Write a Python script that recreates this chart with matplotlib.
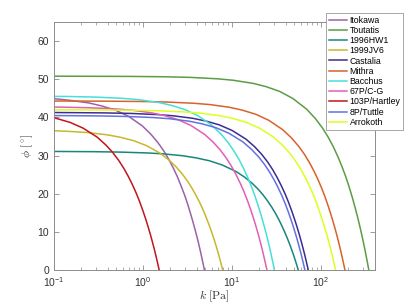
import matplotlib
matplotlib.use("Agg")
import matplotlib.pyplot as plt

plt.rcParams["font.family"] = ["Liberation Sans", "DejaVu Sans"]
plt.rcParams["mathtext.fontset"] = "cm"

names = ["Itokawa", "Toutatis", "1996HW1", "1999JV6", "Castalia", "Mithra",
         "Bacchus", "67P/C-G", "103P/Hartley", "8P/Tuttle", "Arrokoth"]
colors = ["#9b62a7", "#5b9c45", "#17877b", "#c9b72d", "#3c2d91", "#d9622b",
          "#45e0d8", "#e35fb5", "#c4141c", "#6272e0", "#dcff1f"]

# cohesion k [Pa] and friction angle phi [deg]
k_itokawa = [0.1, 0.147, 0.245, 0.343, 0.49, 0.686, 0.98, 1.225, 1.47, 1.715, 1.96,
             2.205, 2.45, 2.695, 2.94, 3.185, 3.43, 3.675, 3.92, 4.165, 4.41, 4.655,
             4.7775, 4.9]
phi_itokawa = [44.9, 44.5, 43.8, 43.0, 41.9, 40.3, 37.8, 35.6, 33.4, 31.2, 28.9, 26.6,
               24.3, 21.9, 19.6, 17.2, 14.7, 12.3, 9.9, 7.5, 5.0, 2.5, 1.25, 0.0]

k_toutatis = [0.1, 0.69, 1.725, 3.45, 6.9, 10.35, 17.25, 24.15, 34.5, 48.3, 69, 86.25,
              103.5, 120.75, 138, 155.25, 172.5, 189.75, 207, 224.25, 241.5, 258.75,
              276, 293.25, 310.5, 327.75, 336.4, 345]
phi_toutatis = [50.8, 50.74, 50.65, 50.48, 50.11, 49.73, 48.92, 48.06, 46.79, 44.96,
                42.16, 39.73, 37.29, 34.80, 32.26, 29.67, 27.08, 24.49, 21.84, 19.15,
                16.46, 13.77, 11.07, 8.33, 5.59, 2.79, 1.40, 0.0]

k_hw1 = [0.1, 0.278, 0.556, 1.112, 1.668, 2.78, 3.892, 5.56, 7.784, 11.12, 13.9,
         16.68, 19.46, 22.24, 25.02, 27.8, 30.58, 33.36, 36.14, 38.92, 41.7, 44.48,
         47.26, 50.04, 52.82, 54.21, 55.6]
phi_hw1 = [31.07, 31.01, 30.90, 30.68, 30.45, 29.95, 29.42, 28.64, 27.52, 25.81, 24.32,
           22.83, 21.30, 19.75, 18.16, 16.58, 14.99, 13.37, 11.72, 10.08, 8.43, 6.78,
           5.10, 3.42, 1.71, 0.86, 0.0]

k_jv6 = [0.1, 0.157, 0.236, 0.394, 0.551, 0.787, 1.102, 1.574, 1.968, 2.361, 2.755,
         3.148, 3.542, 3.935, 4.329, 4.722, 5.116, 5.509, 5.903, 6.296, 6.69, 7.083,
         7.477, 7.674, 7.87]
phi_jv6 = [36.5, 36.30, 36.03, 35.44, 34.81, 33.89, 32.57, 30.54, 28.78, 27.01, 25.21,
           23.37, 21.49, 19.61, 17.74, 15.82, 13.87, 11.92, 9.97, 8.02, 6.04, 4.05,
           2.02, 1.01, 0.0]

k_castalia = [0.1, 0.144, 0.36, 0.72, 1.44, 2.16, 3.6, 5.04, 7.2, 10.08, 14.4, 18,
              21.6, 25.2, 28.8, 32.4, 36, 39.6, 43.2, 46.8, 50.4, 54, 57.6, 61.2,
              64.8, 68.4, 70.2, 72]
phi_castalia = [41.27, 41.25, 41.18, 41.04, 40.74, 40.43, 39.77, 39.07, 38.04, 36.55,
                34.28, 32.30, 30.31, 28.29, 26.23, 24.12, 22.01, 19.91, 17.76, 15.57,
                13.38, 11.19, 9.00, 6.77, 4.54, 2.27, 1.14, 0.0]

k_mithra = [0.1, 0.372, 0.93, 1.86, 3.72, 5.58, 9.3, 13.02, 18.6, 26.04, 37.2, 46.5,
            55.8, 65.1, 74.4, 83.7, 93, 102.3, 111.6, 120.9, 130.2, 139.5, 148.8,
            158.1, 167.4, 176.7, 181.35, 186]
phi_mithra = [44.29, 44.25, 44.17, 44.02, 43.70, 43.37, 42.66, 41.91, 40.80, 39.21,
              36.77, 34.64, 32.52, 30.35, 28.13, 25.87, 23.61, 21.35, 19.05, 16.70,
              14.35, 12.01, 9.66, 7.27, 4.87, 2.44, 1.22, 0.0]

k_bacchus = [0.1, 0.15, 0.3, 0.6, 0.9, 1.5, 2.1, 3, 4.2, 6, 7.5, 9, 10.5, 12, 13.5,
             15, 16.5, 18, 19.5, 21, 22.5, 24, 25.5, 27, 28.5, 29.25, 30]
phi_bacchus = [45.51, 45.47, 45.31, 44.98, 44.64, 43.91, 43.14, 42.00, 40.36, 37.85,
               35.66, 33.47, 31.24, 28.96, 26.63, 24.30, 21.98, 19.61, 17.19, 14.77,
               12.36, 9.94, 7.48, 5.02, 2.51, 1.25, 0.0]

k_67p = [0.1, 0.1235, 0.247, 0.494, 0.741, 1.235, 1.729, 2.47, 3.458, 4.94, 6.175,
         7.41, 8.645, 9.88, 11.115, 12.35, 13.585, 14.82, 16.055, 17.29, 18.525,
         19.76, 20.995, 22.23, 23.465, 24.08, 24.7]
phi_67p = [42.70, 42.68, 42.53, 42.22, 41.90, 41.22, 40.49, 39.42, 37.88, 35.52, 33.47,
           31.42, 29.32, 27.18, 25.00, 22.81, 20.63, 18.40, 16.14, 13.87, 11.60, 9.33,
           7.02, 4.71, 2.35, 1.18, 0.0]

k_103p = [0.1, 0.1064, 0.152, 0.2128, 0.304, 0.38, 0.456, 0.532, 0.608, 0.684, 0.76,
          0.836, 0.912, 0.988, 1.064, 1.14, 1.216, 1.292, 1.368, 1.444, 1.482, 1.52]
phi_103p = [39.9, 39.73, 38.68, 37.17, 34.86, 32.84, 30.83, 28.77, 26.67, 24.53, 22.39,
            20.24, 18.06, 15.83, 13.61, 11.38, 9.16, 6.89, 4.62, 2.31, 1.16, 0.0]

k_8p = [0.1, 0.132, 0.33, 0.66, 1.32, 1.98, 3.3, 4.62, 6.6, 9.24, 13.2, 16.5, 19.8,
        23.1, 26.4, 29.7, 33, 36.3, 39.6, 42.9, 46.2, 49.5, 52.8, 56.1, 59.4, 62.7,
        64.35, 66]
phi_8p = [40.47, 40.46, 40.38, 40.24, 39.95, 39.65, 39.00, 38.31, 37.30, 35.84, 33.62,
          31.67, 29.73, 27.74, 25.72, 23.65, 21.59, 19.52, 17.42, 15.27, 13.12, 10.98,
          8.83, 6.64, 4.46, 2.23, 1.11, 0.0]

k_arrokoth = [0.1, 0.292, 0.73, 1.46, 2.92, 4.38, 7.3, 10.22, 14.6, 20.44, 29.2, 36.5,
              43.8, 51.1, 58.4, 65.7, 73, 80.3, 87.6, 94.9, 102.2, 109.5, 116.8, 124.1,
              131.4, 138.7, 142.35, 146]
phi_arrokoth = [41.99, 41.95, 41.88, 41.74, 41.43, 41.12, 40.45, 39.73, 38.68, 37.17,
                34.86, 32.84, 30.83, 28.77, 26.67, 24.53, 22.39, 20.24, 18.06, 15.83,
                13.61, 11.38, 9.16, 6.89, 4.62, 2.31, 1.16, 0.0]

ks = [k_itokawa, k_toutatis, k_hw1, k_jv6, k_castalia, k_mithra, k_bacchus, k_67p,
      k_103p, k_8p, k_arrokoth]
phis = [phi_itokawa, phi_toutatis, phi_hw1, phi_jv6, phi_castalia, phi_mithra,
        phi_bacchus, phi_67p, phi_103p, phi_8p, phi_arrokoth]

fig = plt.figure(figsize=(4.15, 3.05), dpi=100)
ax = fig.add_axes([54 / 415, 35 / 305, 321 / 415, 248 / 305])

for k, phi, name, c in zip(ks, phis, names, colors):
    ax.plot(k, phi, color=c, lw=1.1, label=name)

ax.set_xscale("log")
ax.set_xlim(0.1, 405)
ax.set_ylim(0, 65)
ax.set_yticks(range(0, 61, 10))
ax.set_xticks([0.1, 1, 10, 100])
ax.set_xticklabels([r"$\mathregular{10^{-1}}$", r"$\mathregular{10^{0}}$",
                    r"$\mathregular{10^{1}}$", r"$\mathregular{10^{2}}$"])
ax.tick_params(which="both", direction="in", top=True, right=True,
               colors="0.55", labelcolor="0.2", labelsize=7.5)
ax.tick_params(which="major", length=3.5, width=0.6)
ax.tick_params(which="minor", length=2, width=0.5)
for s in ax.spines.values():
    s.set_color("0.55")
    s.set_linewidth(0.7)

ax.set_xlabel(r"$k\ [\mathrm{Pa}]$", fontsize=8.5, color="0.2", labelpad=0)
ax.set_ylabel(r"$\phi\ [^\circ\!]$", fontsize=8.5, color="0.2", labelpad=2)

# legend sits over the top-right corner, poking above the axes
leg = ax.legend(loc="upper right", bbox_to_anchor=(403 / 415, 1 - 13 / 305),
                bbox_transform=fig.transFigure, borderaxespad=0, fontsize=6.3,
                handlelength=2.1, labelspacing=0.14, handletextpad=0.25,
                borderpad=0.3, fancybox=False, framealpha=1)
leg.get_frame().set_edgecolor("0.6")
leg.get_frame().set_linewidth(0.6)

fig.savefig("out.png", dpi=100)
